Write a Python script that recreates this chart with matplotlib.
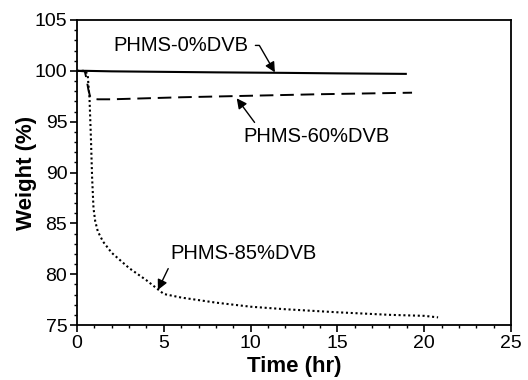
import matplotlib
matplotlib.use("Agg")
import matplotlib.pyplot as plt
from matplotlib.ticker import MultipleLocator

plt.rcParams['font.family'] = ['Liberation Sans', 'DejaVu Sans']

# Data
x0 = [0, 0.5, 2, 5, 8, 12, 15, 19.0]
y0 = [100.0, 100.0, 99.95, 99.9, 99.85, 99.8, 99.75, 99.7]

x60 = [0, 0.45, 0.55, 0.65, 0.75, 0.9, 1.2, 2, 3, 6, 10, 14, 19.3]
y60 = [100, 99.95, 99.2, 98.2, 97.5, 97.25, 97.2, 97.2, 97.25, 97.4, 97.55, 97.7, 97.85]

x85 = [0, 0.5, 0.62, 0.72, 0.8, 0.87, 0.95, 1.05, 1.2, 1.5, 2, 3, 4, 5, 6, 8, 10, 12, 15, 18, 20, 20.8]
y85 = [100, 100, 99.5, 97.3, 93.5, 89.5, 86.5, 85.2, 84.2, 83.2, 82.1, 80.6, 79.4, 78.05, 77.7, 77.2, 76.8, 76.55, 76.25, 76.0, 75.9, 75.75]

labels = ["PHMS-0%DVB", "PHMS-60%DVB", "PHMS-85%DVB"]

fig = plt.figure(figsize=(5.28, 3.8), dpi=100)
ax = fig.add_axes([77/528, 1-325/380, (511-77)/528, (325-20)/380])

ax.plot(x0, y0, color='black', lw=1.5, solid_capstyle='butt')
ax.plot(x60, y60, color='black', lw=1.4, dashes=(7, 3.5))
ax.plot(x85, y85, color='black', lw=1.5, dashes=(1, 1.3))

ax.set_xlim(0, 25)
ax.set_ylim(75, 105)
ax.xaxis.set_major_locator(MultipleLocator(5))
ax.xaxis.set_minor_locator(MultipleLocator(1))
ax.yaxis.set_major_locator(MultipleLocator(5))
ax.yaxis.set_minor_locator(MultipleLocator(1))
ax.tick_params(which='major', direction='out', length=5, width=1.2, labelsize=14, pad=2)
ax.tick_params(which='minor', direction='out', length=2.5, width=1.0)
ax.tick_params(top=False, right=False, which='both')
for s in ax.spines.values():
    s.set_linewidth(1.3)

ax.set_xlabel("Time (hr)", fontsize=16, fontweight='bold', labelpad=3)
ax.set_ylabel("Weight (%)", fontsize=16, fontweight='bold', labelpad=-2)

ap = dict(arrowstyle='-|>', color='black', lw=1.0, mutation_scale=15, shrinkA=0, shrinkB=0)

ax.annotate(labels[0], xy=(11.4, 99.85), xytext=(2.1, 102.5), fontsize=14.5,
            va='center', ha='left',
            arrowprops=dict(ap, connectionstyle="angle,angleA=0,angleB=120,rad=0",
                            relpos=(1.0, 0.5), shrinkA=3))
ax.annotate(labels[1], xy=(9.2, 97.3), xytext=(9.6, 93.5), fontsize=14.5,
            va='center', ha='left',
            arrowprops=dict(ap, relpos=(0.1, 1.0), shrinkA=2))
ax.annotate(labels[2], xy=(4.66, 78.45), xytext=(5.4, 82.0), fontsize=14.5,
            va='center', ha='left',
            arrowprops=dict(ap, relpos=(0.0, 0.0), shrinkA=2))

fig.savefig("out.png", dpi=100)
